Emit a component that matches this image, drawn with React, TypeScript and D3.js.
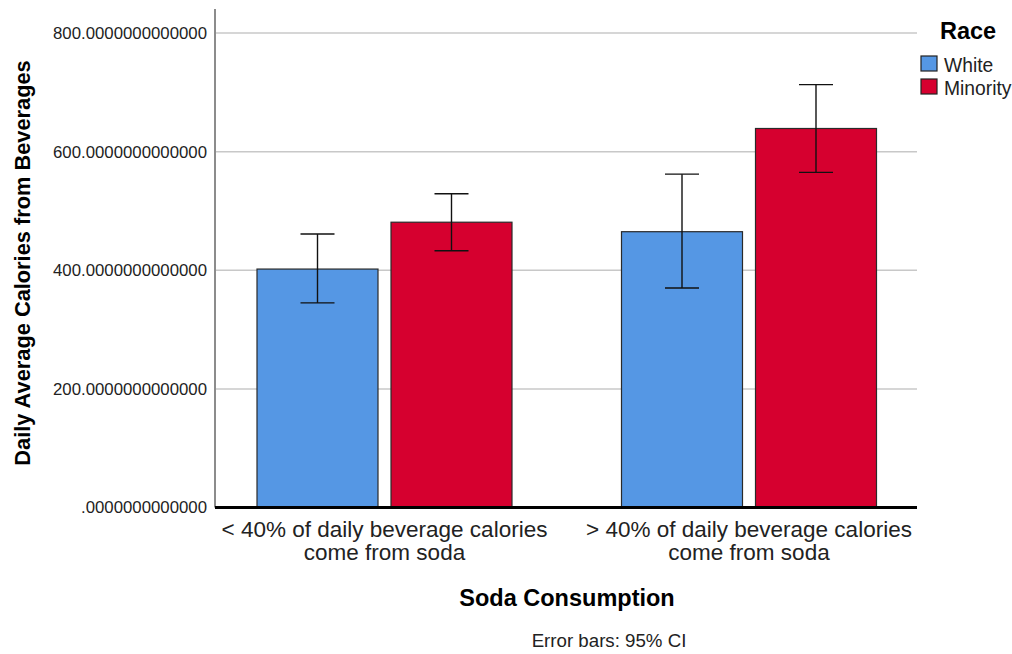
import React from "react";
import * as d3 from "d3";

const categories = ["< 40% of daily beverage calories|come from soda", "> 40% of daily beverage calories|come from soda"];
const seriesNames = ["White", "Minority"];
const seriesColors = ["#5597E4", "#D6002F"];
const whiteMean = [402, 465];
const whiteLower = [345, 370];
const whiteUpper = [461, 562];
const minorityMean = [481, 639];
const minorityLower = [433, 565];
const minorityUpper = [529, 713];
const yTicks = [0, 200, 400, 600, 800];

const FONT = "'Liberation Sans', Arial, sans-serif";

export default function App() {
  const W = 1012, H = 654;
  const plotLeft = 215, plotRight = 917, plotTop = 9;
  const y = d3.scaleLinear().domain([0, 800]).range([507.5, 33]);
  const x = d3.scaleBand<string>().domain(categories).range([202.25, 931.25]).padding(0);
  const xs = d3.scaleBand<string>().domain(seriesNames).range([0, x.bandwidth()]).paddingInner(0.097).paddingOuter(0.4086);

  const data = [
    { name: "White", mean: whiteMean, lo: whiteLower, hi: whiteUpper },
    { name: "Minority", mean: minorityMean, lo: minorityLower, hi: minorityUpper },
  ];
  const fmt = (v: number) => (v === 0 ? ".0000000000000" : v.toFixed(13));
  const capW = 34;

  return (
    <svg width={W} height={H} style={{ position: "absolute", left: 0, top: 0, background: "#fff" }} fontFamily={FONT}>
      {yTicks.filter(t => t > 0).map(t => (
        <line key={t} x1={plotLeft} x2={plotRight} y1={y(t)} y2={y(t)} stroke="#C8C8C8" strokeWidth={1.5} />
      ))}
      <line x1={plotLeft} x2={plotLeft} y1={plotTop} y2={y(0)} stroke="#8C8C8C" strokeWidth={2} />
      {yTicks.map(t => (
        <text key={t} x={207} y={y(t)} dy="0.35em" textAnchor="end" fontSize={16.8} fill="#222">{fmt(t)}</text>
      ))}
      {data.map((s, si) =>
        categories.map((c, ci) => {
          const bx = (x(c) as number) + (xs(s.name) as number);
          const bw = xs.bandwidth();
          return (
            <rect key={s.name + ci} x={bx} y={y(s.mean[ci])} width={bw} height={y(0) - y(s.mean[ci])}
              fill={seriesColors[si]} stroke="#2a2a2a" strokeWidth={1.2} />
          );
        })
      )}
      {data.map((s, si) =>
        categories.map((c, ci) => {
          const cx = (x(c) as number) + (xs(s.name) as number) + xs.bandwidth() / 2;
          return (
            <g key={"e" + s.name + ci} stroke="#111" strokeWidth={1.4}>
              <line x1={cx} x2={cx} y1={y(s.hi[ci])} y2={y(s.lo[ci])} />
              <line x1={cx - capW / 2} x2={cx + capW / 2} y1={y(s.hi[ci])} y2={y(s.hi[ci])} />
              <line x1={cx - capW / 2} x2={cx + capW / 2} y1={y(s.lo[ci])} y2={y(s.lo[ci])} />
            </g>
          );
        })
      )}
      <line x1={plotLeft} x2={plotRight} y1={y(0)} y2={y(0)} stroke="#000" strokeWidth={3} />
      {categories.map(c => {
        const cx = (x(c) as number) + x.bandwidth() / 2;
        const lines = c.split("|");
        return (
          <g key={c}>
            {lines.map((l, i) => (
              <text key={i} x={cx} y={536.5 + i * 23} textAnchor="middle" fontSize={22.5} fill="#222">{l}</text>
            ))}
          </g>
        );
      })}
      <text x={567} y={606} textAnchor="middle" fontSize={23.5} fontWeight="bold" fill="#000">Soda Consumption</text>
      <text transform="translate(30,263) rotate(-90)" textAnchor="middle" fontSize={21.8} fontWeight="bold" fill="#000">
        Daily Average Calories from Beverages
      </text>
      <text x={609} y={647} textAnchor="middle" fontSize={18.7} fill="#222">Error bars: 95% CI</text>
      <text x={940} y={38.5} fontSize={23.5} fontWeight="bold" fill="#000">Race</text>
      {seriesNames.map((n, i) => (
        <g key={n}>
          <rect x={921} y={56 + i * 23} width={16} height={15} fill={seriesColors[i]} stroke="#222" strokeWidth={1.2} />
          <text x={944} y={71.5 + i * 23} fontSize={19.3} fill="#222">{n}</text>
        </g>
      ))}
    </svg>
  );
}
